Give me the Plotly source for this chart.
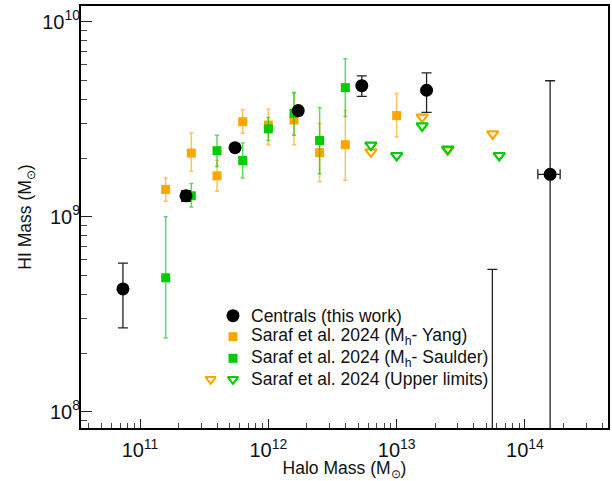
import numpy as np
import plotly.graph_objects as go

# ---------------- data ----------------
cen_x = [7.36e10, 2.28e11, 5.5e11, 1.71e12, 5.35e12, 1.71e13, 5.57e13, 1.57e14]
cen_y = [4.26e8, 1.28e9, 2.26e9, 3.5e9, 4.7e9, 4.45e9, 5.0e7, 1.65e9]
cen_y_hi = [5.78e8, 1.36e9, 2.32e9, 3.6e9, 5.28e9, 5.47e9, 5.37e8, 4.98e9]
cen_y_lo = [2.69e8, 1.20e9, 2.20e9, 3.4e9, 4.14e9, 3.43e9, 1.0e7, 1.0e7]
cen_x_hi = [7.36e10, 2.28e11, 5.5e11, 1.71e12, 5.35e12, 1.71e13, 5.57e13, 1.88e14]
cen_x_lo = [7.36e10, 2.28e11, 5.5e11, 1.71e12, 5.35e12, 1.71e13, 5.57e13, 1.26e14]

yang_x = [1.585e11, 2.51e11, 3.98e11, 6.31e11, 1.0e12, 1.585e12, 2.51e12, 3.98e12, 1.0e13]
yang_y = [1.38e9, 2.12e9, 1.62e9, 3.07e9, 2.95e9, 3.13e9, 2.13e9, 2.34e9, 3.3e9]
yang_hi = [1.58e9, 2.69e9, 1.95e9, 3.54e9, 3.56e9, 4.3e9, 3.01e9, 3.5e9, 4.28e9]
yang_lo = [1.2e9, 1.71e9, 1.35e9, 2.68e9, 2.34e9, 2.34e9, 1.51e9, 1.54e9, 2.56e9]

saul_x = [1.585e11, 2.51e11, 3.98e11, 6.31e11, 1.0e12, 1.585e12, 2.51e12, 3.98e12]
saul_y = [4.86e8, 1.28e9, 2.18e9, 1.94e9, 2.82e9, 3.39e9, 2.46e9, 4.59e9]
saul_hi = [1.0e9, 1.48e9, 2.62e9, 2.39e9, 3.23e9, 4.34e9, 3.62e9, 6.46e9]
saul_lo = [2.39e8, 1.12e9, 1.81e9, 1.58e9, 2.46e9, 2.62e9, 1.66e9, 3.26e9]

ul_yang_x = [6.3e12, 1.58e13, 2.5e13, 5.6e13]
ul_yang_y = [2.15e9, 3.24e9, 2.2e9, 2.66e9]
ul_saul_x = [6.3e12, 1.0e13, 1.58e13, 2.5e13, 6.3e13]
ul_saul_y = [2.33e9, 2.06e9, 2.92e9, 2.22e9, 2.06e9]

x_decades = [11, 12, 13, 14]
y_decades = [8, 9, 10]

legend_labels = [
    "Centrals (this work)",
    "Saraf et al. 2024 (M<sub>h</sub>- Yang)",
    "Saraf et al. 2024 (M<sub>h</sub>- Saulder)",
    "Saraf et al. 2024 (Upper limits)",
]

# ---------------- style ----------------
ORANGE = "#FFA500"
GREEN = "#00CC00"
ORANGE_ERR = "rgba(255,165,0,0.65)"
GREEN_ERR = "rgba(0,204,0,0.65)"
FONT = "Liberation Sans, Arial, Helvetica, sans-serif"

def diff(a, b):
    return [float(x - y) for x, y in zip(a, b)]

fig = go.Figure()

fig.add_trace(go.Scatter(
    x=yang_x, y=yang_y, mode="markers",
    marker=dict(symbol="square", size=9, color=ORANGE),
    error_y=dict(type="data", array=diff(yang_hi, yang_y), arrayminus=diff(yang_y, yang_lo),
                 color=ORANGE_ERR, thickness=1.5, width=2),
    showlegend=False))

fig.add_trace(go.Scatter(
    x=saul_x, y=saul_y, mode="markers",
    marker=dict(symbol="square", size=9, color=GREEN),
    error_y=dict(type="data", array=diff(saul_hi, saul_y), arrayminus=diff(saul_y, saul_lo),
                 color=GREEN_ERR, thickness=1.5, width=2),
    showlegend=False))

fig.add_trace(go.Scatter(
    x=ul_yang_x, y=ul_yang_y, mode="markers",
    marker=dict(symbol="triangle-down-open", size=10, color=ORANGE, line=dict(width=2.2, color=ORANGE)),
    showlegend=False))

fig.add_trace(go.Scatter(
    x=ul_saul_x, y=ul_saul_y, mode="markers",
    marker=dict(symbol="triangle-down-open", size=10, color=GREEN, line=dict(width=2.2, color=GREEN)),
    showlegend=False))

fig.add_trace(go.Scatter(
    x=cen_x, y=cen_y, mode="markers",
    marker=dict(symbol="circle", size=13, color="black"),
    error_y=dict(type="data", array=diff(cen_y_hi, cen_y), arrayminus=diff(cen_y, cen_y_lo),
                 color="#222222", thickness=1.3, width=5),
    error_x=dict(type="data", array=diff(cen_x_hi, cen_x), arrayminus=diff(cen_x, cen_x_lo),
                 color="#222222", thickness=1.3, width=5),
    showlegend=False))

# ---------------- manual legend (overlay axes in plot-fraction units) ----------------
leg_mx = 0.2884
leg_mx2 = 0.2461
leg_tx = 0.3188
leg_rows = [0.2661, 0.2164, 0.1652, 0.1154]

fig.add_trace(go.Scatter(x=[leg_mx], y=[leg_rows[0]], xaxis="x2", yaxis="y2", mode="markers",
                         marker=dict(symbol="circle", size=13, color="black"), showlegend=False,
                         hoverinfo="skip"))
fig.add_trace(go.Scatter(x=[leg_mx], y=[leg_rows[1]], xaxis="x2", yaxis="y2", mode="markers",
                         marker=dict(symbol="square", size=9, color=ORANGE), showlegend=False,
                         hoverinfo="skip"))
fig.add_trace(go.Scatter(x=[leg_mx], y=[leg_rows[2]], xaxis="x2", yaxis="y2", mode="markers",
                         marker=dict(symbol="square", size=9, color=GREEN), showlegend=False,
                         hoverinfo="skip"))
fig.add_trace(go.Scatter(x=[leg_mx2], y=[leg_rows[3]], xaxis="x2", yaxis="y2", mode="markers",
                         marker=dict(symbol="triangle-down-open", size=9, color=ORANGE,
                                     line=dict(width=2, color=ORANGE)), showlegend=False,
                         hoverinfo="skip"))
fig.add_trace(go.Scatter(x=[leg_mx], y=[leg_rows[3]], xaxis="x2", yaxis="y2", mode="markers",
                         marker=dict(symbol="triangle-down-open", size=9, color=GREEN,
                                     line=dict(width=2, color=GREEN)), showlegend=False,
                         hoverinfo="skip"))

for lab, yy in zip(legend_labels, leg_rows):
    fig.add_annotation(x=leg_tx, y=yy, xref="x2", yref="y2", text=lab, showarrow=False,
                       xanchor="left", yanchor="middle",
                       font=dict(family=FONT, size=17.5, color="#111111"))

# ---------------- axes ----------------
def minor_vals(decades_range):
    vals = []
    for d in decades_range:
        for m in range(2, 10):
            vals.append(m * 10.0 ** d)
    return vals

xminor = minor_vals(range(10, 15))
yminor = minor_vals(range(7, 11))

TICKFONT = dict(family=FONT, size=20, color="#111111")

fig.update_layout(
    width=612, height=481,
    margin=dict(l=81, r=4, t=6, b=53),
    paper_bgcolor="white", plot_bgcolor="white",
    font=dict(family=FONT, size=17, color="#111111"),
    xaxis=dict(
        type="log", range=[10.540, 14.647],
        tickmode="array",
        tickvals=[10.0 ** d for d in x_decades],
        ticktext=["10<sup>%d</sup>" % d for d in x_decades],
        ticks="inside", ticklen=9, tickwidth=1.3, tickcolor="#222222",
        minor=dict(tickvals=xminor, ticks="inside", ticklen=5, tickwidth=1, tickcolor="#444444",
                   showgrid=False),
        showline=True, linecolor="black", linewidth=2, mirror=True,
        showgrid=False, zeroline=False, automargin=False,
        tickfont=TICKFONT, ticklabelstandoff=3,
        title=dict(text="Halo Mass (M<sub>⊙</sub>)", font=dict(family=FONT, size=17.5), standoff=8),
    ),
    yaxis=dict(
        type="log", range=[7.9164, 10.0805],
        tickmode="array",
        tickvals=[10.0 ** d for d in y_decades],
        ticktext=["10<sup>%d</sup>" % d for d in y_decades],
        ticks="inside", ticklen=11, tickwidth=1.3, tickcolor="#222222",
        minor=dict(tickvals=yminor, ticks="inside", ticklen=6, tickwidth=1, tickcolor="#444444",
                   showgrid=False),
        showline=True, linecolor="black", linewidth=2, mirror=True,
        showgrid=False, zeroline=False, automargin=False,
        tickfont=TICKFONT, ticklabelstandoff=-5,
        title=dict(text="HI Mass (M<sub>⊙</sub>)", font=dict(family=FONT, size=17.5), standoff=6),
    ),
    xaxis2=dict(overlaying="x", range=[0, 1], visible=False, fixedrange=True),
    yaxis2=dict(overlaying="y", range=[0, 1], visible=False, fixedrange=True),
    showlegend=False,
)

fig.write_html("out.html")
